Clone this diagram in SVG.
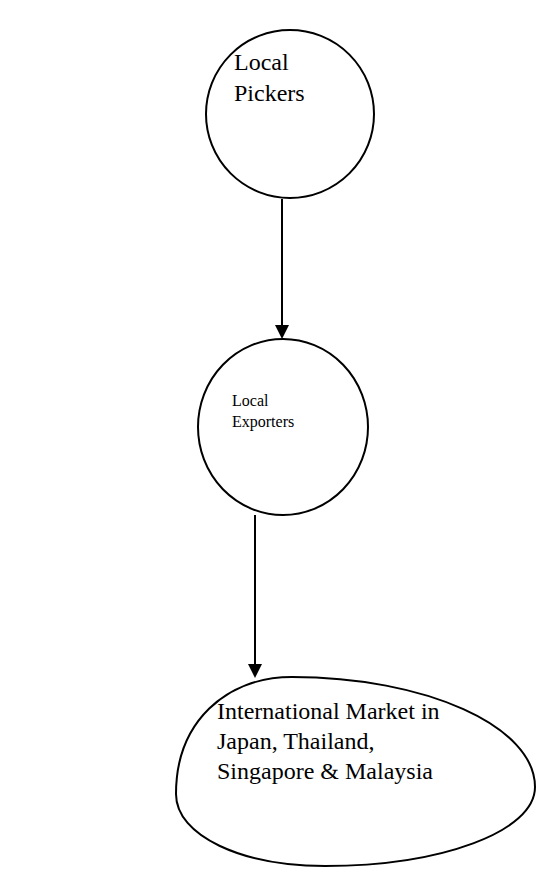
<svg xmlns="http://www.w3.org/2000/svg" width="536" height="869" viewBox="0 0 536 869">
  <style>
    .shape { fill: #ffffff; stroke: #000000; stroke-width: 2; }
    .link { stroke: #000000; stroke-width: 2; fill: none; }
    .head { fill: #000000; }
    .big { font-family: "Liberation Serif", "Times New Roman", serif; font-size: 24px; fill: #000000; }
    .small { font-family: "Liberation Serif", "Times New Roman", serif; font-size: 16px; fill: #000000; }
  </style>
  <rect width="536" height="869" fill="#ffffff"/>

  <!-- flow arrows between the three stages -->
  <g id="connectors">
    <line class="link" x1="282" y1="199" x2="282" y2="326"/>
    <path class="head" d="M275,325 L289,325 L282,339 z"/>
    <line class="link" x1="255" y1="515" x2="255" y2="665"/>
    <path class="head" d="M248,664 L262,664 L255,678 z"/>
  </g>

  <g id="local-pickers">
    <circle class="shape" cx="290" cy="114" r="84"/>
    <text class="big" x="234" y="70">Local</text>
    <text class="big" x="234" y="101">Pickers</text>
  </g>

  <g id="local-exporters">
    <ellipse class="shape" cx="283" cy="427" rx="85" ry="88"/>
    <text class="small" x="232" y="406">Local</text>
    <text class="small" x="232" y="427">Exporters</text>
  </g>

  <!-- oval built from four elliptical quarters, widest toward the right -->
  <g id="international-market">
    <path class="shape" d="M176,794 C176,722 226,677 292,677 C425,677 535,726 535,787 C535,832 440,866 325,866 C242,866 176,836 176,794 Z"/>
    <text class="big" x="217" y="719">International Market in</text>
    <text class="big" x="217" y="749">Japan, Thailand,</text>
    <text class="big" x="217" y="779">Singapore &amp; Malaysia</text>
  </g>
</svg>
